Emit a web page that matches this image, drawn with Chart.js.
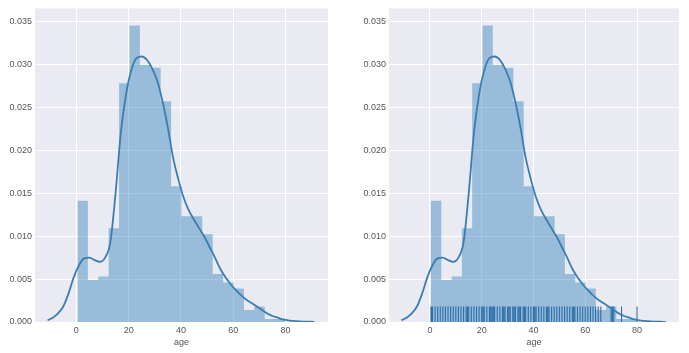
<!DOCTYPE html>
<html>
<head>
<meta charset="utf-8">
<script src="https://cdn.jsdelivr.net/npm/chart.js@4/dist/chart.umd.min.js"></script>
<style>
  html, body { margin: 0; padding: 0; background: #ffffff; }
  body { width: 689px; height: 353px; position: relative; overflow: hidden; }
  .panel { position: absolute; top: 0; }
  canvas { display: block; }
</style>
</head>
<body>
<div class="panel" style="left:0px;"><canvas id="c1" width="345" height="353"></canvas></div>
<div class="panel" style="left:345px;"><canvas id="c2" width="344" height="353"></canvas></div>
<script>
// ---- data ----
const histEdges = [0.42, 4.40, 8.38, 12.35, 16.33, 20.31, 24.29, 28.27, 32.24, 36.22, 40.20,
                   44.18, 48.16, 52.13, 56.11, 60.09, 64.07, 68.05, 72.02, 76.00, 79.98];
const histDensity = [0.0141, 0.0049, 0.0053, 0.0109, 0.0278, 0.0345, 0.0299, 0.0296, 0.0257, 0.0158,
                     0.0123, 0.0123, 0.0102, 0.0056, 0.0046, 0.0039, 0.0014, 0.0018, 0.00035, 0.00035];

const kdeX = [-11, -9, -7, -5, -3, -1, 1, 3, 5, 7, 9, 11, 13, 15, 17, 19, 21, 23, 25, 27, 29, 31, 33, 35,
              37, 39, 41, 43, 45, 47, 49, 51, 53, 55, 57, 59, 61, 63, 65, 67, 69, 71, 73, 75, 77, 79,
              81, 83, 85, 87, 89, 91];
const kdeY = [0.0002, 0.0005, 0.0010, 0.0018, 0.0033, 0.0052, 0.0066, 0.0074, 0.0075, 0.0072, 0.0070,
              0.0075, 0.0093, 0.0150, 0.0220, 0.0265, 0.0293, 0.0307, 0.0309, 0.0305, 0.0295, 0.0280,
              0.0256, 0.0226, 0.0191, 0.0166, 0.0145, 0.0130, 0.0119, 0.0109, 0.0099, 0.0087, 0.0075,
              0.0062, 0.0052, 0.0044, 0.0037, 0.0031, 0.0026, 0.0022, 0.0018, 0.0014, 0.0010, 0.0007,
              0.0005, 0.0003, 0.0002, 0.00012, 0.00008, 0.00005, 0.00003, 0.00001];

const rugAges = [0.42, 0.67, 0.75, 0.83, 0.92, 1, 2, 3, 4, 5, 6, 7, 8, 9, 10, 11, 12, 13, 14, 14.5,
                 15, 16, 17, 18, 19, 20, 20.5, 21, 22, 23, 23.5, 24, 24.5, 25, 26, 27, 28, 28.5, 29,
                 30, 30.5, 31, 32, 32.5, 33, 34, 34.5, 35, 36, 36.5, 37, 38, 39, 40, 40.5, 41, 42,
                 43, 44, 45, 45.5, 46, 47, 48, 49, 50, 51, 52, 53, 54, 55, 55.5, 56, 57, 58, 59, 60,
                 61, 62, 63, 64, 65, 66, 70, 70.5, 71, 74, 80];
const rugHeight = 0.0018;

const xTicks = [0, 20, 40, 60, 80];
const yTicks = [0, 0.005, 0.010, 0.015, 0.020, 0.025, 0.030, 0.035];
const xLabel = 'age';

// ---- build chart data ----
function histPoints() {
  const pts = [{x: histEdges[0], y: 0}];
  for (let i = 0; i < histDensity.length; i++) pts.push({x: histEdges[i], y: histDensity[i]});
  pts.push({x: histEdges[histEdges.length - 1], y: histDensity[histDensity.length - 1]});
  pts.push({x: histEdges[histEdges.length - 1], y: 0});
  return pts;
}
function kdePoints() { return kdeX.map((x, i) => ({x: x, y: kdeY[i]})); }
function rugPoints() {
  const pts = [];
  rugAges.forEach(a => { pts.push({x: a, y: 0}); pts.push({x: a, y: rugHeight}); pts.push({x: a, y: null}); });
  return pts;
}

const bgPlugin = {
  id: 'plotBg',
  beforeDraw(chart) {
    const {ctx, chartArea: a} = chart;
    ctx.save();
    ctx.fillStyle = '#EAEAF2';
    ctx.fillRect(a.left, a.top, a.right - a.left, a.bottom - a.top);
    ctx.restore();
  }
};

const FONT = {family: "'Liberation Sans', Arial, sans-serif", size: 9};

function makeChart(id, yWidth, padRight, withRug) {
  const datasets = [
    {
      type: 'line', data: kdePoints(), borderColor: '#3a7db2', borderWidth: 1.8,
      pointRadius: 0, fill: false, cubicInterpolationMode: 'monotone', order: 0
    }
  ];
  if (withRug) {
    datasets.push({
      type: 'line', data: rugPoints(), borderColor: '#2b6ea8', borderWidth: 1.1,
      pointRadius: 0, fill: false, spanGaps: false, tension: 0, order: 1
    });
  }
  datasets.push({
    type: 'line', data: histPoints(), borderWidth: 0, borderColor: 'rgba(0,0,0,0)',
    backgroundColor: 'rgba(31,119,180,0.40)', fill: 'origin', stepped: 'before',
    pointRadius: 0, tension: 0, order: 2
  });
  return new Chart(document.getElementById(id), {
    type: 'line',
    data: {datasets: datasets},
    plugins: [bgPlugin],
    options: {
      responsive: false, animation: false, devicePixelRatio: 1,
      layout: {padding: {left: 0, right: padRight, top: 5, bottom: 0}},
      plugins: {legend: {display: false}, tooltip: {enabled: false}},
      scales: {
        x: {
          type: 'linear', min: -15.8, max: 96.2,
          afterBuildTicks(s) { s.ticks = xTicks.map(v => ({value: v})); },
          afterFit(s) { s.height = 31; },
          grid: {color: '#ffffff', lineWidth: 1, drawTicks: false},
          border: {display: false},
          ticks: {color: '#555555', font: FONT, padding: 3, maxRotation: 0},
          title: {display: true, text: xLabel, color: '#555555', font: FONT, padding: {top: 0, bottom: 5}}
        },
        y: {
          type: 'linear', min: 0, max: 0.0365,
          afterBuildTicks(s) { s.ticks = yTicks.map(v => ({value: v})); },
          afterFit(s) { s.width = yWidth; },
          grid: {color: '#ffffff', lineWidth: 1, drawTicks: false},
          border: {display: false},
          ticks: {color: '#555555', font: FONT, padding: 3, callback: v => Number(v).toFixed(3)}
        }
      }
    }
  });
}

makeChart('c1', 35, 17, false);
makeChart('c2', 44, 10, true);
</script>
</body>
</html>
